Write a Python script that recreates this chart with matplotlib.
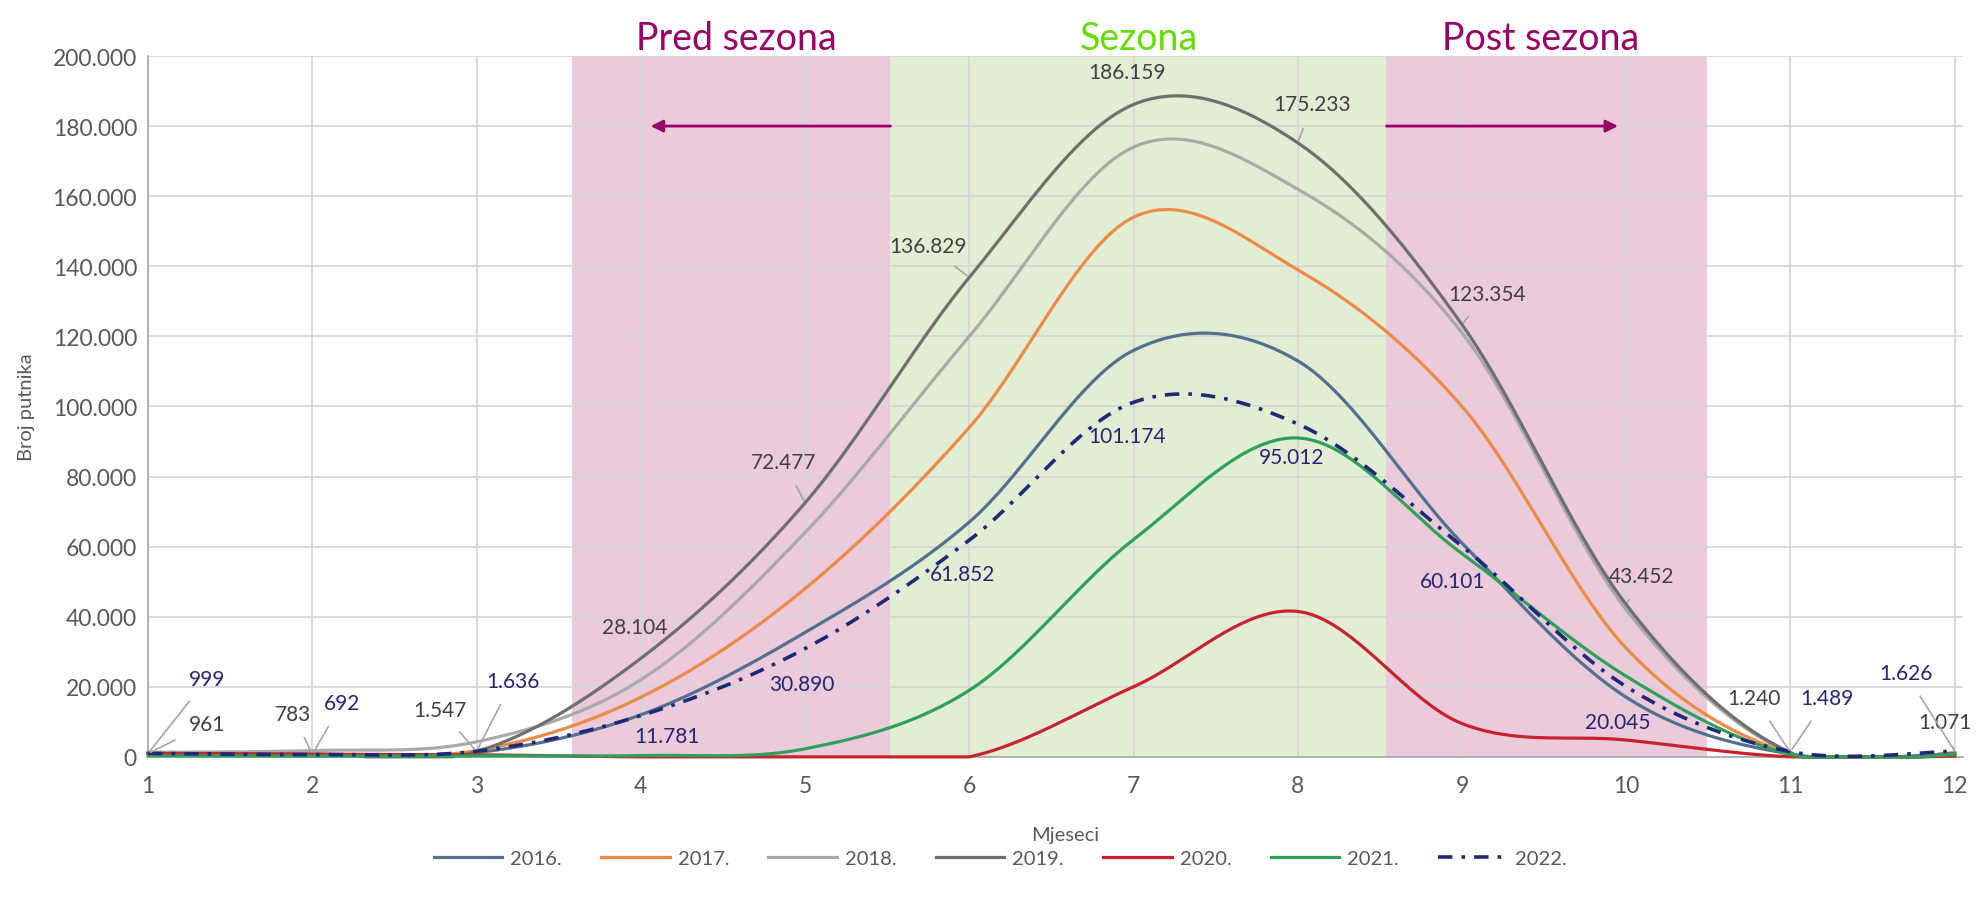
import matplotlib
matplotlib.use("Agg")
import matplotlib.pyplot as plt
from matplotlib.ticker import FuncFormatter, MultipleLocator
import numpy as np

plt.rcParams['font.family'] = ['Lato', 'DejaVu Sans']

# ----------------------------
# Data (broj putnika po mjesecima)
# ----------------------------
months = list(range(1, 13))
years = ["2016.", "2017.", "2018.", "2019.", "2020.", "2021.", "2022."]

p2016 = [900, 700, 1200, 12000, 35500, 67000, 116000, 113000, 61000, 17000, 800, 900]
p2017 = [800, 700, 1800, 17000, 48000, 94000, 154000, 139000, 100000, 31000, 900, 1000]
p2018 = [1300, 1800, 4300, 22000, 64000, 120000, 174000, 162000, 121000, 42000, 1000, 1100]
p2019 = [961, 783, 1547, 28104, 72477, 136829, 186159, 175233, 123354, 43452, 1240, 1071]
p2020 = [1000, 800, 600, 0, 0, 0, 20000, 41500, 9500, 4800, 0, 200]
p2021 = [300, 200, 300, 400, 2300, 19000, 62000, 91000, 58000, 23000, 700, 600]
p2022 = [999, 692, 1636, 11781, 30890, 61852, 101174, 95012, 60101, 20045, 1489, 1626]

series = [p2016, p2017, p2018, p2019, p2020, p2021, p2022]
colors = ["#52708F", "#ED8A45", "#A9A9A9", "#6F6F6F", "#C8232C", "#2FA05A", "#202878"]

# season bands (month positions)
pred_band = (3.58, 5.52)
season_band = (5.52, 8.54)
post_band = (8.54, 10.49)

# label positions (x, y in thousands) for the labelled series
labels_2019_pos = [(1.36, 9.4), (1.88, 12.3), (2.78, 13.4), (3.96, 37.1), (4.87, 84.2),
                   (5.75, 145.8), (6.96, 195.4), (8.09, 186.3), (9.15, 132.1),
                   (10.09, 51.7), (10.78, 16.8), (11.94, 10.0)]
labels_2019_leader = [True, True, True, False, True, True, False, True, True, True, True, True]
labels_2022_pos = [(1.36, 22.3), (2.18, 15.4), (3.22, 21.7), (4.16, 6.0), (4.98, 20.8),
                   (5.96, 52.2), (6.96, 91.6), (7.96, 85.6), (8.94, 50.2),
                   (9.95, 10.0), (11.22, 16.8), (11.70, 24.0)]
labels_2022_leader = [True, True, True, False, False, False, False, False, False,
                      False, True, True]


def smooth(x, y, n=40):
    """Excel-like smoothed line (Catmull-Rom as cubic Bezier)."""
    pts = np.column_stack([x, y]).astype(float)
    p = np.vstack([pts[0], pts, pts[-1]])
    t = np.linspace(0, 1, n, endpoint=False)[:, None]
    out = []
    for i in range(1, len(p) - 2):
        p0, p1, p2, p3 = p[i - 1], p[i], p[i + 1], p[i + 2]
        c1 = p1 + (p2 - p0) / 6
        c2 = p2 - (p3 - p1) / 6
        seg = ((1 - t) ** 3) * p1 + 3 * (1 - t) ** 2 * t * c1 + 3 * (1 - t) * t ** 2 * c2 + t ** 3 * p2
        out.append(seg)
    out.append(p[-2][None])
    res = np.vstack(out)
    # the chart cannot show negative passengers, keep overshoot at the axis
    return res[:, 0], np.clip(res[:, 1], 0, None)


def fmt_num(v):
    return f"{int(v):,}".replace(",", ".")


fig = plt.figure(figsize=(19.88, 9.12), dpi=100)
ax = fig.add_axes([0.0745, 0.169, 0.9129, 0.7685])

ax.axvspan(*pred_band, color="#EACADB", zorder=1, lw=0)
ax.axvspan(*season_band, color="#E2EED3", zorder=1, lw=0)
ax.axvspan(*post_band, color="#EACADB", zorder=1, lw=0)

for name, vals, col in zip(years, series, colors):
    xs, ys = smooth(months, vals)
    if name == "2022.":
        ax.plot(xs, ys, color=col, lw=2.6, linestyle=(0, (4, 2.5, 1, 2.5)), label=name,
                zorder=3, clip_on=False)
    else:
        ax.plot(xs, ys, color=col, lw=2.3, label=name, zorder=3, clip_on=False)

# data labels
label_fs = 15
for m, v, (lx, ly), lead in zip(months, p2019, labels_2019_pos, labels_2019_leader):
    if lead:
        ax.annotate(fmt_num(v), xy=(m, v), xytext=(lx, ly * 1000), ha="center", va="center",
                    fontsize=label_fs, color="#404040", zorder=5, annotation_clip=False,
                    arrowprops=dict(arrowstyle="-", color="#A6A6A6", lw=1.2, shrinkA=9, shrinkB=2))
    else:
        ax.text(lx, ly * 1000, fmt_num(v), ha="center", va="center", fontsize=label_fs,
                color="#404040", zorder=5)

for m, v, (lx, ly), lead in zip(months, p2022, labels_2022_pos, labels_2022_leader):
    if lead:
        ax.annotate(fmt_num(v), xy=(m, v), xytext=(lx, ly * 1000), ha="center", va="center",
                    fontsize=label_fs, color="#262670", zorder=5, annotation_clip=False,
                    arrowprops=dict(arrowstyle="-", color="#A6A6A6", lw=1.2, shrinkA=9, shrinkB=2))
    else:
        ax.text(lx, ly * 1000, fmt_num(v), ha="center", va="center", fontsize=label_fs,
                color="#262670", zorder=5)

# season arrows
ax.annotate("", xy=(4.06, 180000), xytext=(pred_band[1], 180000),
            arrowprops=dict(arrowstyle="-|>", color="#990066", lw=2, mutation_scale=18,
                            shrinkA=0, shrinkB=0), zorder=4)
ax.annotate("", xy=(9.95, 180000), xytext=(post_band[0], 180000),
            arrowprops=dict(arrowstyle="-|>", color="#990066", lw=2, mutation_scale=18,
                            shrinkA=0, shrinkB=0), zorder=4)

# axes styling
ax.set_xlim(1, 12.05)
ax.set_ylim(0, 200000)
ax.xaxis.set_major_locator(MultipleLocator(1))
ax.yaxis.set_major_locator(MultipleLocator(20000))
ax.yaxis.set_major_formatter(FuncFormatter(lambda v, p: fmt_num(v)))
ax.set_axisbelow("line")
ax.grid(True, color="#D4D4D4", lw=1.2)
for s in ["top", "right"]:
    ax.spines[s].set_visible(False)
for s in ["left", "bottom"]:
    ax.spines[s].set_color("#A6A6A6")
    ax.spines[s].set_linewidth(1.2)
ax.tick_params(length=0, labelsize=16.5, labelcolor="#595959")
ax.tick_params(axis="x", pad=13)
ax.tick_params(axis="y", pad=8)

fig.text(0.0135, 0.553, "Broj putnika", rotation=90, ha="center", va="center",
         fontsize=14.5, color="#595959")
fig.text(0.5357, 0.084, "Mjeseci", ha="center", va="center", fontsize=14.5, color="#595959")

# season titles
ax.text(4.58, 1.0, "Pred sezona", transform=ax.get_xaxis_transform(), ha="center",
        va="bottom", fontsize=27, color="#990066")
ax.text(7.03, 1.0, "Sezona", transform=ax.get_xaxis_transform(), ha="center",
        va="bottom", fontsize=27, color="#66DD00")
ax.text(9.48, 1.0, "Post sezona", transform=ax.get_xaxis_transform(), ha="center",
        va="bottom", fontsize=27, color="#990066")

fig.legend(loc="center", bbox_to_anchor=(0.503, 0.058), ncol=7, frameon=False,
           fontsize=14.5, labelcolor="#595959", handlelength=3.4, handletextpad=0.4,
           columnspacing=1.95)

fig.savefig("out.png", dpi=100)
